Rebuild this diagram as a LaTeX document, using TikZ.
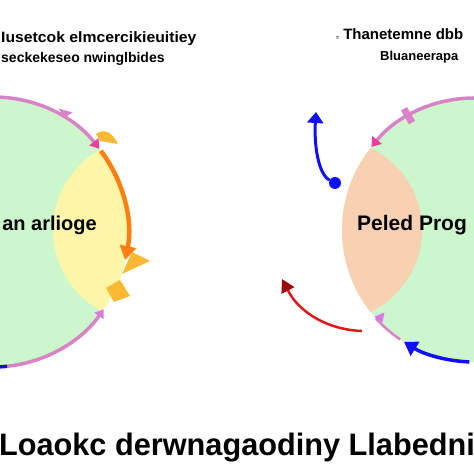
\documentclass[tikz,border=0pt]{standalone}
\usepackage{fontspec}
\setmainfont{Liberation Sans}
\usepackage{xcolor}
\usetikzlibrary{arrows.meta}
\usetikzlibrary{calc}

\definecolor{leafgreen}{HTML}{CCF7CC}
\definecolor{lemon}{HTML}{FDF6A8}
\definecolor{peach}{HTML}{F8D0B2}
\definecolor{orchid}{HTML}{D982C8}
\definecolor{rosetip}{HTML}{EC3F9A}
\definecolor{violettip}{HTML}{D77BE3}
\definecolor{tangerine}{HTML}{FF8010}
\definecolor{golden}{HTML}{FBB833}
\definecolor{deepblue}{HTML}{1010F0}
\definecolor{brick}{HTML}{E01818}
\definecolor{bloodred}{HTML}{A00808}

\begin{document}
\begin{tikzpicture}[x=1pt,y=1pt,
	ring/.style={line width=3.5pt},
	caption/.style={inner sep=0pt,font=\bfseries}]

	\useasboundingbox (0,0) rectangle (474,474);
	\clip (0,0) rectangle (474,474);
	
	% left circle
	\coordinate (lc) at (-7,242);
	\fill [leafgreen] (lc) circle (135);
	\begin{scope}
		\clip (lc) circle (135);
		\fill [lemon] (145,244) circle (92);
	\end{scope}
	
	% right circle
	\coordinate (rc) at (474,244);
	\fill [leafgreen] (rc) circle (132);
	\begin{scope}
		\clip (rc) circle (132);
		\fill [peach] (331,244) circle (91);
	\end{scope}
	
	% left arcs
	\draw [ring,orchid,-{Triangle[color=rosetip,length=9pt,width=11pt]}] ($(lc)+(95:135)$) arc (95:38:135);
	\fill [orchid] ($(lc)+(58:135)$) -- ++(-6,9) -- ++(14,-4) -- cycle;
	\draw [ring,line width=4.5pt,tangerine,-{Triangle[length=14pt,width=16pt]}] ($(lc)+(37:135)$) arc (37:-12:135);
	\draw [ring,orchid,{Triangle[color=violettip,length=8pt,width=11pt]}-] ($(lc)+(-35:135)$) arc (-35:-84:135);
	\draw [ring,deepblue] ($(lc)+(-84:135)$) arc (-84:-95:135);
	
	% golden flecks
	\fill [golden] (96,340) .. controls (104,346) and (112,342) .. (118,330) -- (100,333) -- cycle;
	\fill [golden] (122,200) -- (150,213) -- (132,222) -- cycle;
	\fill [golden] (106,186) -- (120,194) -- (130,178) -- (114,172) -- cycle;
	
	% right arcs
	\draw [ring,orchid,-{Triangle[color=rosetip,length=9pt,width=12pt]}] ($(rc)+(90:132)$) arc (90:141:132);
	\draw [orchid,line width=7pt] ($(rc)+(120:124)$) -- ($(rc)+(120:140)$);
	\draw [ring,line width=2.5pt,orchid] ($(rc)+(222:132)$) arc (222:236:132);
	\fill [violettip] ($(rc)+(221:132)$) -- ++(10,4) -- ++(-2,-10) -- cycle;
	\draw [ring,deepblue,-{Triangle[length=13pt,width=16pt]}] ($(rc)+(268:132)$) arc (268:238:132);
	
	% loose arrows
	\node (dot) [circle,fill=deepblue,inner sep=0pt,minimum size=12pt] at (335,291) {};
	\coordinate (bluetip) at (316,362);
	\draw [deepblue,line width=3pt,-{Triangle[length=11pt,width=16pt]}] (dot) .. controls (318,300) and (314,330) .. (bluetip);
	\coordinate (redstart) at (362,143);
	\coordinate (redtip) at (282,195);
	\draw [brick,line width=2.5pt,-{Triangle[color=bloodred,length=13pt,width=14pt]}] (redstart) .. controls (330,144) and (300,160) .. (redtip);
	
	% texts
	\node (topleft) [caption,anchor=base west,font=\bfseries\fontsize{15}{15}\selectfont] at (1,431) {\scalebox{1.05}[1]{Iusetcok elmcercikieuitiey}};
	\node (subleft) [caption,anchor=base west,font=\bfseries\fontsize{14}{14}\selectfont] at (1,411) {seckekeseo nwinglbides};
	\node (topright) [caption,anchor=base west,font=\bfseries\fontsize{15}{15}\selectfont] at (336,434) {{\tiny =}\ Thanetemne dbb};
	\node (subright) [caption,anchor=base west,font=\bfseries\fontsize{13}{13}\selectfont] at (380,413) {Bluaneerapa};
	\node (leftname) [caption,anchor=base east,font=\bfseries\fontsize{20}{20}\selectfont] at (97,243) {an arlioge};
	\node (rightname) [caption,anchor=base west,font=\bfseries\fontsize{21}{21}\selectfont] at (357,243) {Peled Prog};
	\node (bottom) [caption,anchor=base,font=\bfseries\fontsize{31}{31}\selectfont] at (237,19) {\scalebox{0.99}[1]{Loaokc derwnagaodiny Llabedni}};
	
\end{tikzpicture}
\end{document}
